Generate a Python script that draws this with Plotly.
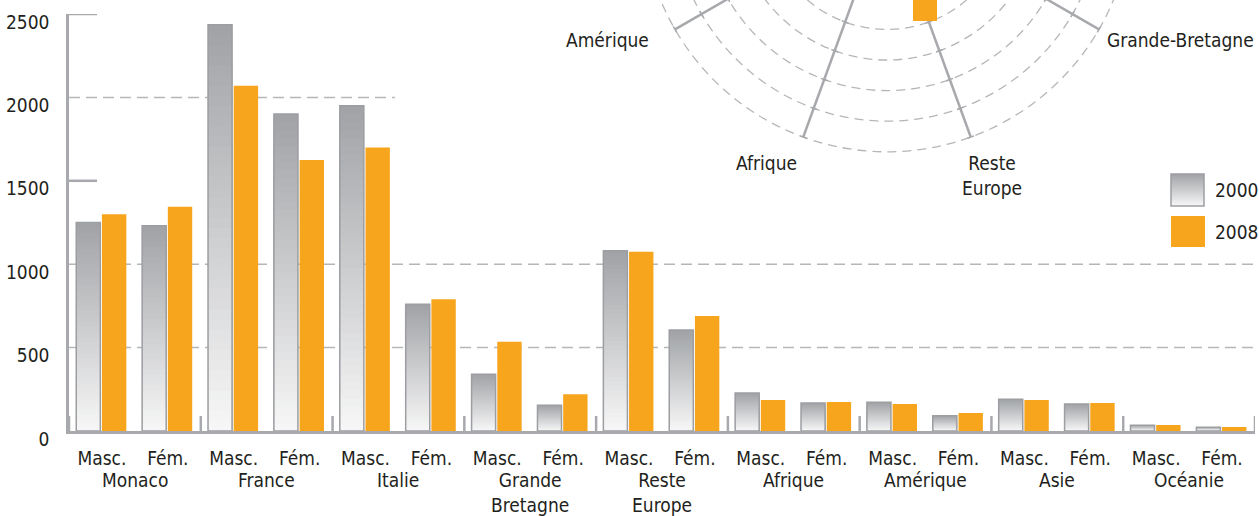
import numpy as np
import plotly.graph_objects as go

# ---------------- data ----------------
GROUPS = ["Monaco", "France", "Italie", "Grande<br>Bretagne", "Reste<br>Europe",
          "Afrique", "Amérique", "Asie", "Océanie"]
SEXES = ["Masc.", "Fém."]
VALUES_2000 = [1250, 1230, 2435, 1900, 1950, 760, 340, 155, 1080, 605,
               228, 168, 172, 92, 190, 162, 34, 22]
VALUES_2008 = [1300, 1345, 2070, 1625, 1700, 790, 535, 220, 1075, 690,
               186, 174, 162, 108, 186, 168, 36, 24]
SERIES_NAMES = ["2000", "2008"]
Y_TICKS = [0, 500, 1000, 1500, 2000, 2500]
GRID_FULL = [500, 1000]
GRID_PARTIAL = [2000]
SOLID_TICKS = [1500, 2500]
RADAR_CATEGORIES = ["Monaco", "France", "Italie", "Grande-Bretagne", "Reste<br>Europe",
                    "Afrique", "Amérique", "Asie", "Océanie"]
RADAR_VISIBLE_LABELS = ["Amérique", "Grande-Bretagne", "Afrique", "Reste<br>Europe"]

# ---------------- style ----------------
W, H = 1259, 516
FONT = "Liberation Sans Narrow, Arial Narrow, DejaVu Sans Condensed, Roboto Condensed, sans-serif"
FS = 19
TXT = "#231f20"
AXIS = "#a7a9ac"
GRID = "#b4b6b9"
ORANGE = "#f7a51c"
GRAY_TOP = np.array([160, 162, 166])
GRAY_BOT = np.array([247, 247, 247])
N_SLICES = 40

def px(x):
    return x / W

def py(y):
    return 1 - y / H

X_LEFT, X_RIGHT = 69, 1255
Y_ZERO, Y_TOP = 431, 14

n_grp, n_sex = len(GROUPS), len(SEXES)
x_idx = np.arange(n_grp * n_sex)            # one slot per (group, sex)
inner_labels = [s for _ in GROUPS for s in SEXES]

def grad_color(t):  # t=0 bottom, 1 top
    c = GRAY_BOT + (GRAY_TOP - GRAY_BOT) * t
    return "rgb(%d,%d,%d)" % tuple(int(round(v)) for v in c)

fig = go.Figure()
v2000 = np.array(VALUES_2000, dtype=float)
# gradient: overlapping bars from full height down to the bottom slice
for k in range(N_SLICES):
    frac = (N_SLICES - k) / N_SLICES
    fig.add_trace(go.Bar(
        x=x_idx, y=v2000 * frac,
        width=0.365, offset=-0.39,
        marker=dict(color=grad_color(frac - 0.5 / N_SLICES), line=dict(width=0)),
        showlegend=False, hoverinfo="skip"))
fig.add_trace(go.Bar(
    x=x_idx, y=v2000, width=0.365, offset=-0.39, name=SERIES_NAMES[0],
    marker=dict(color="rgba(0,0,0,0)", line=dict(color="#9c9ea2", width=1.5)),
    showlegend=False))
fig.add_trace(go.Bar(
    x=x_idx, y=VALUES_2008, width=0.37, offset=0.0, name=SERIES_NAMES[1],
    marker=dict(color=ORANGE, line=dict(width=0)), showlegend=False))

shapes = []
# dashed gridlines
for v in GRID_FULL:
    shapes.append(dict(type="line", xref="paper", yref="y", x0=px(X_LEFT), x1=px(1258),
                       y0=v, y1=v, layer="below",
                       line=dict(color=GRID, width=1.5, dash="11px,6px")))
for v in GRID_PARTIAL:
    shapes.append(dict(type="line", xref="paper", yref="y", x0=px(X_LEFT), x1=px(395),
                       y0=v, y1=v, layer="below",
                       line=dict(color=GRID, width=1.5, dash="11px,6px")))
for v in SOLID_TICKS:
    shapes.append(dict(type="line", xref="paper", yref="y", x0=px(X_LEFT), x1=px(97),
                       y0=v, y1=v, line=dict(color=AXIS, width=2.5)))
# group dividers
for i in range(n_grp + 1):
    xd = i * n_sex - 0.5
    shapes.append(dict(type="line", xref="x", yref="y", ysizemode="pixel", yanchor=0,
                       x0=xd, x1=xd, y0=-13, y1=15, line=dict(color=AXIS, width=2.5)))

# radar (partially visible, centre above the image)
CX, CY, RING = 887, -93, 30.6
N_RINGS = 8
R_OUT = RING * N_RINGS
for k in range(1, N_RINGS + 1):
    r = RING * k
    shapes.append(dict(type="circle", xref="paper", yref="paper",
                       x0=px(CX - r), x1=px(CX + r), y0=py(CY + r), y1=py(CY - r),
                       line=dict(color=GRID, width=1.3, dash="9px,6px")))
n_cat = len(RADAR_CATEGORIES)
for i in range(n_cat):
    th = np.deg2rad(360 * i / n_cat)
    ux, uy = np.sin(th), -np.cos(th)
    shapes.append(dict(type="line", xref="paper", yref="paper",
                       x0=px(CX), y0=py(CY), x1=px(CX + R_OUT * ux), y1=py(CY + R_OUT * uy),
                       line=dict(color=AXIS, width=2.5)))
    for k in range(1, N_RINGS + 1):
        bx, by = CX + RING * k * ux, CY + RING * k * uy
        pxv, pyv = np.cos(th), np.sin(th)
        shapes.append(dict(type="line", xref="paper", yref="paper",
                           x0=px(bx - 3.5 * pxv), y0=py(by - 3.5 * pyv),
                           x1=px(bx + 3.5 * pxv), y1=py(by + 3.5 * pyv),
                           line=dict(color=AXIS, width=1.5)))
# orange swatch visible at the top
shapes.append(dict(type="rect", xref="paper", yref="paper", x0=px(913), x1=px(937),
                   y0=py(21), y1=py(-10), fillcolor=ORANGE, line=dict(width=0)))

# legend swatches
LEG_X0, LEG_X1 = 1171, 1204
G_Y0, G_Y1 = 174, 206
n_strip = 32
for s in range(n_strip):
    ya = G_Y0 + (G_Y1 - G_Y0) * s / n_strip
    yb = G_Y0 + (G_Y1 - G_Y0) * (s + 1) / n_strip
    shapes.append(dict(type="rect", xref="paper", yref="paper", x0=px(LEG_X0), x1=px(LEG_X1),
                       y0=py(yb + 0.5), y1=py(ya), fillcolor=grad_color(1 - (s + 0.5) / n_strip),
                       line=dict(width=0)))
shapes.append(dict(type="rect", xref="paper", yref="paper", x0=px(LEG_X0), x1=px(LEG_X1),
                   y0=py(G_Y1), y1=py(G_Y0), line=dict(color="#9c9ea2", width=1.5)))
shapes.append(dict(type="rect", xref="paper", yref="paper", x0=px(LEG_X0), x1=px(1205),
                   y0=py(247), y1=py(216), fillcolor=ORANGE, line=dict(width=0)))

annotations = []
label_pos = {"Amérique": (651, 40, "right"), "Grande-Bretagne": (1256, 40, "right"),
             "Afrique": (766, 163, "center"), "Reste<br>Europe": (992, 176, "center")}
for lab in RADAR_VISIBLE_LABELS:
    x, y, anc = label_pos[lab]
    annotations.append(dict(text=lab, x=px(x), y=py(y), xref="paper", yref="paper",
                            xanchor=anc, yanchor="middle", showarrow=False,
                            font=dict(family=FONT, size=FS, color=TXT)))
for name, yc in zip(SERIES_NAMES, [190, 232]):
    annotations.append(dict(text=name, x=px(1213), y=py(yc), xref="paper", yref="paper",
                            xanchor="left", yanchor="middle", showarrow=False,
                            font=dict(family=FONT, size=FS, color=TXT)))
# outer (group) labels of the category axis
for g, name in enumerate(GROUPS):
    annotations.append(dict(text=name, x=g * n_sex + (n_sex - 1) / 2, y=py(467),
                            xref="x", yref="paper", xanchor="center", yanchor="top",
                            showarrow=False, font=dict(family=FONT, size=FS, color=TXT)))

fig.update_layout(
    width=W, height=H, margin=dict(l=0, r=0, t=0, b=0, autoexpand=False),
    paper_bgcolor="white", plot_bgcolor="white",
    barmode="overlay", showlegend=False,
    font=dict(family=FONT, size=FS, color=TXT),
    xaxis=dict(domain=[px(X_LEFT), px(X_RIGHT)], range=[-0.5, n_grp * n_sex - 0.5],
               tickvals=x_idx, ticktext=inner_labels, automargin=False,
               showline=True, linecolor=AXIS, linewidth=3,
               ticks="", showgrid=False, zeroline=False, ticklabelstandoff=8,
               tickfont=dict(family=FONT, size=FS, color=TXT)),
    yaxis=dict(domain=[py(Y_ZERO), py(Y_TOP)], range=[0, 2500], tickvals=Y_TICKS,
               automargin=False,
               showline=True, linecolor=AXIS, linewidth=2.5, ticks="",
               showgrid=False, zeroline=False, ticklabelshift=8, ticklabelstandoff=13,
               tickfont=dict(family=FONT, size=FS, color=TXT)),
    shapes=shapes, annotations=annotations,
)

fig.write_html("out.html", config={"displayModeBar": False, "responsive": False},
               post_script="document.body.style.margin='0';")
